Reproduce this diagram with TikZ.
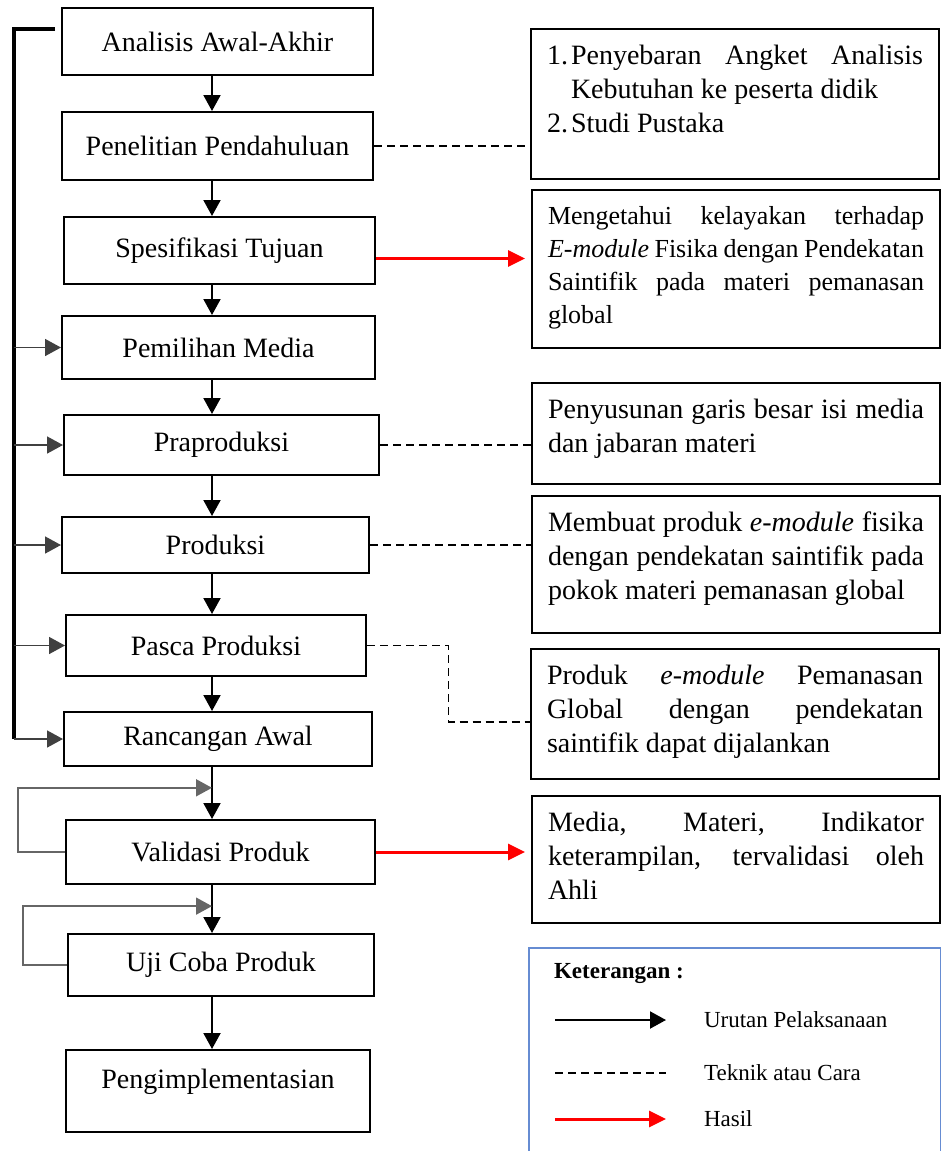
\documentclass[tikz,border=0pt]{standalone}
\usepackage{fontspec}
\setmainfont{Liberation Serif}
\usetikzlibrary{arrows.meta,calc}

\definecolor{legendblue}{RGB}{102,140,210}

\begin{document}
\begin{tikzpicture}[x=0.5pt, y=-0.5pt,
    font=\fontsize{14}{17}\selectfont,
    stage/.style={draw, line width=1pt},
    infobox/.style={draw, line width=1pt, anchor=north west, inner xsep=8pt, inner ysep=8pt},
    flow/.style={line width=1pt, -{Triangle[length=8pt,width=8.5pt]}},
    bus/.style={line width=1.6pt},
    branch/.style={line width=0.8pt, black!75, -{Triangle[length=8pt,width=8.5pt]}},
    loopback/.style={line width=0.9pt, black!60, -{Triangle[length=8pt,width=8.5pt]}},
    teknik/.style={line width=0.9pt, dash pattern=on 4pt off 2.5pt},
    hasil/.style={line width=1.5pt, red, -{Triangle[length=8.5pt,width=8pt]}},
    legendtext/.style={anchor=west, font=\fontsize{11.5}{14}\selectfont}]
    \useasboundingbox (0,0) rectangle (941,1151);

    % Main stages
    \node[stage, minimum width=155.5pt, minimum height=33.5pt] (analisis) at (217.5,41.5) {Analisis Awal-Akhir};
    \node[stage, minimum width=155.5pt, minimum height=34pt] (penelitian) at (217.5,146) {Penelitian Pendahuluan};
    \node[stage, minimum width=155.5pt, minimum height=33.5pt] (spesifikasi) at (219.5,250.5) {Spesifikasi Tujuan};
    \node[stage, minimum width=156.5pt, minimum height=31.5pt] (pemilihan) at (218.5,347.5) {Pemilihan Media};
    \node[stage, minimum width=157.5pt, minimum height=30pt] (praproduksi) at (221.5,445) {Praproduksi};
    \node[stage, minimum width=153.5pt, minimum height=28pt] (produksi) at (215.5,545) {Produksi};
    \node[stage, minimum width=150pt, minimum height=30.5pt] (pasca) at (216,645.5) {Pasca Produksi};
    \node[stage, minimum width=154pt, minimum height=27pt] (rancangan) at (218,739) {Rancangan Awal};
    \node[stage, minimum width=154.5pt, minimum height=32pt] (validasi) at (220.5,852) {Validasi Produk};
    \node[stage, minimum width=153pt, minimum height=31pt] (ujicoba) at (221,965) {Uji Coba Produk};
    \node[stage, minimum width=152pt, minimum height=41pt, text depth=12pt] (implementasi) at (218,1091) {Pengimplementasian};

    % Sequence arrows
    \coordinate (spine) at (212,0);
    \foreach \a/\b in {analisis/penelitian, penelitian/spesifikasi, spesifikasi/pemilihan,
        pemilihan/praproduksi, praproduksi/produksi, produksi/pasca, pasca/rancangan,
        rancangan/validasi, validasi/ujicoba, ujicoba/implementasi} {
        \draw[flow] (spine |- \a.south) -- (spine |- \b.north);
    }

    % Left return line
    \coordinate (busTop) at (55,29);
    \coordinate (bus) at (14,29);
    \draw[bus] (busTop) -- (bus) -- (bus |- rancangan.west);
    \foreach \n in {pemilihan, praproduksi, produksi, pasca, rancangan} {
        \draw[branch] (bus |- \n.west) -- (\n.west);
    }

    % Revision loops
    \draw[loopback] (validasi.west) -- ++(-47,0) |- ($(spine |- rancangan.south)!0.4!(spine |- validasi.north)$);
    \draw[loopback] (ujicoba.west) -- ++(-44,0) |- ($(spine |- validasi.south)!0.44!(spine |- ujicoba.north)$);

    % Technique / result boxes
    \node[infobox] (angket) at (530,28) {\parbox[t][59pt][t]{188pt}{%
        \hangindent=12pt\hangafter=1\makebox[12pt][l]{1.}Penyebaran Angket Analisis\linebreak Kebutuhan ke peserta didik\par
        \makebox[12pt][l]{2.}Studi Pustaka}};
    \node[infobox] (tujuan) at (531,189) {\parbox[t][63pt][t]{188pt}{\fontsize{13}{16.5}\selectfont
        Mengetahui kelayakan terhadap\linebreak \textit{E-module} Fisika dengan Pendekatan\linebreak
        Saintifik pada materi pemanasan\linebreak global}};
    \node[infobox] (garis) at (531,382) {\parbox[t][34.5pt][t]{188pt}{%
        Penyusunan garis besar isi media\linebreak dan jabaran materi}};
    \node[infobox] (produk) at (531,495) {\parbox[t][52.5pt][t]{188pt}{%
        Membuat produk \textit{e-module} fisika\linebreak dengan pendekatan saintifik pada\linebreak
        pokok materi pemanasan global}};
    \node[infobox] (jalan) at (530,648) {\parbox[t][49pt][t]{188pt}{%
        Produk \textit{e-module} Pemanasan\linebreak Global dengan pendekatan\linebreak
        saintifik dapat dijalankan}};
    \node[infobox] (valid) at (531,795) {\parbox[t][47.5pt][t]{188pt}{%
        Media, Materi, Indikator\linebreak keterampilan, tervalidasi oleh\linebreak Ahli}};

    % Dashed links
    \draw[teknik] (penelitian.east) -- (penelitian.east -| angket.west);
    \draw[teknik] (praproduksi.east) -- (praproduksi.east -| garis.west);
    \draw[teknik] (produksi.east) -- (produksi.east -| produk.west);
    \draw[teknik] (pasca.east) -- ($(pasca.east)!0.5!(pasca.east -| jalan.west)$) |- ($(jalan.west)+(0,8)$);

    % Result arrows
    \draw[hasil] ($(spesifikasi.east)+(0,8)$) -- ($(spesifikasi.east -| tujuan.west)+(-6,8)$);
    \draw[hasil] (validasi.east) -- ($(validasi.east -| valid.west)+(-6,0)$);

    % Legend
    \node[draw=legendblue, line width=1pt, anchor=north west, minimum width=206pt, minimum height=110pt] (legend) at (528,947) {};
    \node[legendtext, font=\fontsize{11.5}{14}\selectfont\bfseries] (ket) at (547,973) {Keterangan :};
    \coordinate (urutA) at (555,1020);
    \coordinate (urutB) at (666,1020);
    \coordinate (carA) at (555,1073);
    \coordinate (carB) at (666,1073);
    \coordinate (hasA) at (555,1119);
    \coordinate (hasB) at (666,1119);
    \draw[flow] (urutA) -- (urutB);
    \draw[teknik] (carA) -- (carB);
    \draw[hasil] (hasA) -- (hasB);
    \node[legendtext] (urut) at (697,1020) {Urutan Pelaksanaan};
    \node[legendtext] (cara) at (697,1073) {Teknik atau Cara};
    \node[legendtext] (hsl) at (697,1119) {Hasil};
\end{tikzpicture}
\end{document}
